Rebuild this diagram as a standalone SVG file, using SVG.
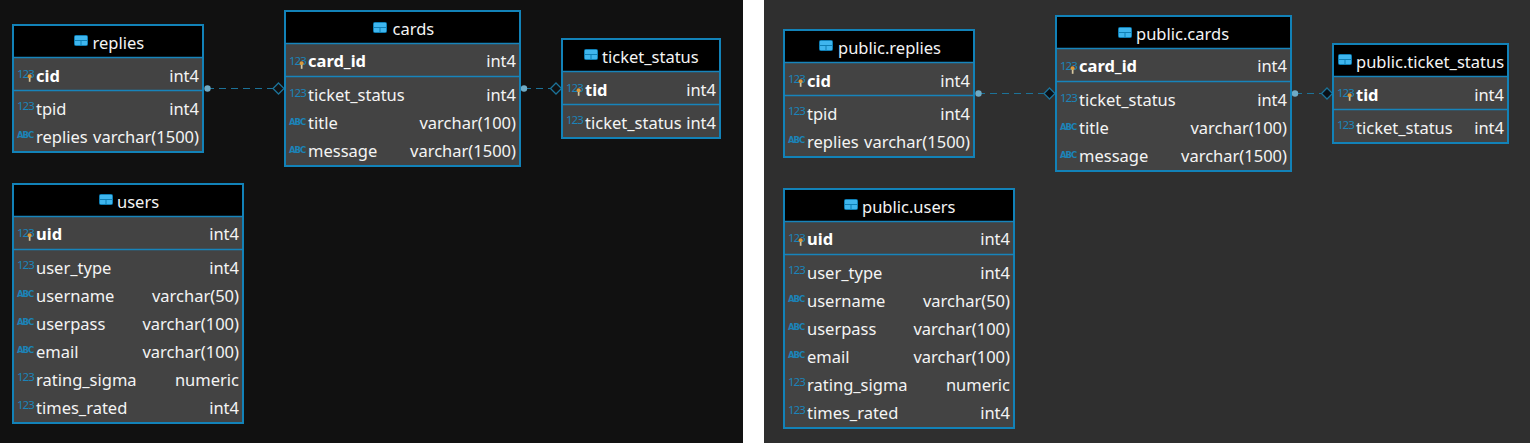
<svg xmlns="http://www.w3.org/2000/svg" width="1530" height="443" viewBox="0 0 1530 443">
<style>
.box{fill:#434343;stroke:#1282b8;stroke-width:2}
.head{fill:#000}
.div{stroke:#1784bb;stroke-width:1.6}
text{font-family:"Noto Sans","Open Sans","Liberation Sans",sans-serif;fill:#f4f4f4}
.t{font-size:16.5px;text-anchor:start}
.n{font-size:16.5px}
.pk{font-size:16.5px;font-weight:700;fill:#fff}
.ty{font-size:16.5px;text-anchor:end}
.i{font-size:11.5px;letter-spacing:-1px;fill:#1b83b8}
.a{font-family:"DejaVu Sans",sans-serif;font-size:8.5px;letter-spacing:-1px;font-weight:700;fill:#1b83b8}
.conn{stroke:#1c7298;stroke-width:1.2;stroke-dasharray:7 5;fill:none}
.dot{fill:#6fabc6}
.dia{fill:#111;stroke:#1c7298;stroke-width:1.3}
.dia2{fill:#0a1118;stroke:#1c7298;stroke-width:1.3}
</style>
<defs>
<g id="tbl"><rect x="0" y="0" width="14" height="11" rx="2" fill="#0f7fb5"/><rect x="1" y="1" width="12" height="4" fill="#3fb6ee"/><rect x="1" y="6" width="5.5" height="4" fill="#3fb6ee"/><rect x="7.5" y="6" width="5.5" height="4" fill="#3fb6ee"/></g>
<g id="key"><circle cx="2.6" cy="2.2" r="2" fill="#d99a3c"/><rect x="1.800" y="4" width="1.700" height="3.800" fill="#d8c8a0"/></g>
</defs>
<rect x="0" y="0" width="743" height="443" fill="#111"/>
<rect x="743" y="0" width="21" height="443" fill="#fff"/>
<rect x="764" y="0" width="766" height="443" fill="#2f2f2f"/>

<g id="connectors">
<path class="conn" d="M207 88.500H273"/><circle class="dot" cx="207.500" cy="88.500" r="3.200"/><path class="dia" d="M278.500 83l5.500 5.500l-5.500 5.500l-5.500-5.500z"/>
<path class="conn" d="M524 88.500H551"/><circle class="dot" cx="524" cy="88.500" r="3.200"/><path class="dia" d="M556 83l5.500 5.500l-5.500 5.500l-5.500-5.500z"/>
<path class="conn" d="M978 93.500H1044"/><circle class="dot" cx="978.500" cy="93.500" r="3.200"/><path class="dia2" d="M1049.500 88l5.500 5.500l-5.500 5.500l-5.500-5.500z"/>
<path class="conn" d="M1295 93.500H1322"/><circle class="dot" cx="1295" cy="93.500" r="3.200"/><path class="dia2" d="M1327 88l5.500 5.500l-5.500 5.500l-5.500-5.500z"/>
</g>

<g id="replies" transform="translate(13 25)">
<rect class="box" width="190" height="127"/><rect class="head" x="1" y="1" width="188" height="31"/><path class="div" d="M0 32.500H190M0 65.500H190"/>
<use href="#tbl" x="61" y="10"/><text class="n" x="79.500" y="24">replies</text>
<text class="i" x="4" y="53">123</text><use href="#key" x="14" y="49"/><text class="pk" x="23" y="57">cid</text><text class="ty" x="186" y="57">int4</text>
<text class="i" x="4" y="85">123</text><text class="t" x="23" y="89.500">tpid</text><text class="ty" x="186" y="89.500">int4</text>
<text class="a" x="4" y="113">ABC</text><text class="t" x="23" y="118">replies</text><text class="ty" x="186" y="118">varchar(1500)</text>
</g>

<g id="cards" transform="translate(285 11)">
<rect class="box" width="235" height="155"/><rect class="head" x="1" y="1" width="233" height="32"/><path class="div" d="M0 32.500H235M0 65.500H235"/>
<use href="#tbl" x="88" y="11"/><text class="n" x="107.500" y="24">cards</text>
<text class="i" x="4" y="54">123</text><use href="#key" x="14" y="50"/><text class="pk" x="23" y="56">card_id</text><text class="ty" x="231" y="56">int4</text>
<text class="i" x="4" y="86">123</text><text class="t" x="23" y="90">ticket_status</text><text class="ty" x="231" y="90">int4</text>
<text class="a" x="4" y="114">ABC</text><text class="t" x="23" y="118">title</text><text class="ty" x="231" y="118">varchar(100)</text>
<text class="a" x="4" y="142">ABC</text><text class="t" x="23" y="146">message</text><text class="ty" x="231" y="146">varchar(1500)</text>
</g>

<g id="ticket_status" transform="translate(562 39)">
<rect class="box" width="158" height="99"/><rect class="head" x="1" y="1" width="156" height="31"/><path class="div" d="M0 32.500H158M0 65.500H158"/>
<use href="#tbl" x="22" y="10"/><text class="n" x="40" y="24">ticket_status</text>
<text class="i" x="4" y="53">123</text><use href="#key" x="14" y="49"/><text class="pk" x="23" y="57">tid</text><text class="ty" x="154" y="57">int4</text>
<text class="i" x="4" y="85">123</text><text class="t" x="23" y="89.500">ticket_status</text><text class="ty" x="154" y="89.500">int4</text>
</g>

<g id="users" transform="translate(13 184)">
<rect class="box" width="230" height="239"/><rect class="head" x="1" y="1" width="228" height="31"/><path class="div" d="M0 32.500H230M0 65.500H230"/>
<use href="#tbl" x="86" y="10"/><text class="n" x="104" y="24">users</text>
<text class="i" x="4" y="53">123</text><use href="#key" x="14" y="49"/><text class="pk" x="23" y="56">uid</text><text class="ty" x="226" y="56">int4</text>
<text class="i" x="4" y="85">123</text><text class="t" x="23" y="90">user_type</text><text class="ty" x="226" y="90">int4</text>
<text class="a" x="4" y="113">ABC</text><text class="t" x="23" y="118">username</text><text class="ty" x="226" y="118">varchar(50)</text>
<text class="a" x="4" y="141">ABC</text><text class="t" x="23" y="146">userpass</text><text class="ty" x="226" y="146">varchar(100)</text>
<text class="a" x="4" y="169">ABC</text><text class="t" x="23" y="174">email</text><text class="ty" x="226" y="174">varchar(100)</text>
<text class="i" x="4" y="197">123</text><text class="t" x="23" y="202">rating_sigma</text><text class="ty" x="226" y="202">numeric</text>
<text class="i" x="4" y="225">123</text><text class="t" x="23" y="230">times_rated</text><text class="ty" x="226" y="230">int4</text>
</g>

<g id="public_replies" transform="translate(784 30)">
<rect class="box" width="190" height="127"/><rect class="head" x="1" y="1" width="188" height="31"/><path class="div" d="M0 32.500H190M0 65.500H190"/>
<use href="#tbl" x="35" y="10"/><text class="n" x="54" y="24">public.replies</text>
<text class="i" x="4" y="53">123</text><use href="#key" x="14" y="49"/><text class="pk" x="23" y="57">cid</text><text class="ty" x="186" y="57">int4</text>
<text class="i" x="4" y="85">123</text><text class="t" x="23" y="89.500">tpid</text><text class="ty" x="186" y="89.500">int4</text>
<text class="a" x="4" y="113">ABC</text><text class="t" x="23" y="118">replies</text><text class="ty" x="186" y="118">varchar(1500)</text>
</g>

<g id="public_cards" transform="translate(1056 16)">
<rect class="box" width="235" height="155"/><rect class="head" x="1" y="1" width="233" height="32"/><path class="div" d="M0 32.500H235M0 65.500H235"/>
<use href="#tbl" x="62" y="11"/><text class="n" x="80" y="24">public.cards</text>
<text class="i" x="4" y="54">123</text><use href="#key" x="14" y="50"/><text class="pk" x="23" y="56">card_id</text><text class="ty" x="231" y="56">int4</text>
<text class="i" x="4" y="86">123</text><text class="t" x="23" y="90">ticket_status</text><text class="ty" x="231" y="90">int4</text>
<text class="a" x="4" y="114">ABC</text><text class="t" x="23" y="118">title</text><text class="ty" x="231" y="118">varchar(100)</text>
<text class="a" x="4" y="142">ABC</text><text class="t" x="23" y="146">message</text><text class="ty" x="231" y="146">varchar(1500)</text>
</g>

<g id="public_ticket_status" transform="translate(1333 44)">
<rect class="box" width="175" height="99"/><rect class="head" x="1" y="1" width="173" height="31"/><path class="div" d="M0 32.500H175M0 65.500H175"/>
<use href="#tbl" x="5" y="10"/><text class="n" x="23" y="24">public.ticket_status</text>
<text class="i" x="4" y="53">123</text><use href="#key" x="14" y="49"/><text class="pk" x="23" y="57">tid</text><text class="ty" x="171" y="57">int4</text>
<text class="i" x="4" y="85">123</text><text class="t" x="23" y="89.500">ticket_status</text><text class="ty" x="171" y="89.500">int4</text>
</g>

<g id="public_users" transform="translate(784 189)">
<rect class="box" width="230" height="239"/><rect class="head" x="1" y="1" width="228" height="31"/><path class="div" d="M0 32.500H230M0 65.500H230"/>
<use href="#tbl" x="60" y="10"/><text class="n" x="78" y="24">public.users</text>
<text class="i" x="4" y="53">123</text><use href="#key" x="14" y="49"/><text class="pk" x="23" y="56">uid</text><text class="ty" x="226" y="56">int4</text>
<text class="i" x="4" y="85">123</text><text class="t" x="23" y="90">user_type</text><text class="ty" x="226" y="90">int4</text>
<text class="a" x="4" y="113">ABC</text><text class="t" x="23" y="118">username</text><text class="ty" x="226" y="118">varchar(50)</text>
<text class="a" x="4" y="141">ABC</text><text class="t" x="23" y="146">userpass</text><text class="ty" x="226" y="146">varchar(100)</text>
<text class="a" x="4" y="169">ABC</text><text class="t" x="23" y="174">email</text><text class="ty" x="226" y="174">varchar(100)</text>
<text class="i" x="4" y="197">123</text><text class="t" x="23" y="202">rating_sigma</text><text class="ty" x="226" y="202">numeric</text>
<text class="i" x="4" y="225">123</text><text class="t" x="23" y="230">times_rated</text><text class="ty" x="226" y="230">int4</text>
</g>
</svg>
